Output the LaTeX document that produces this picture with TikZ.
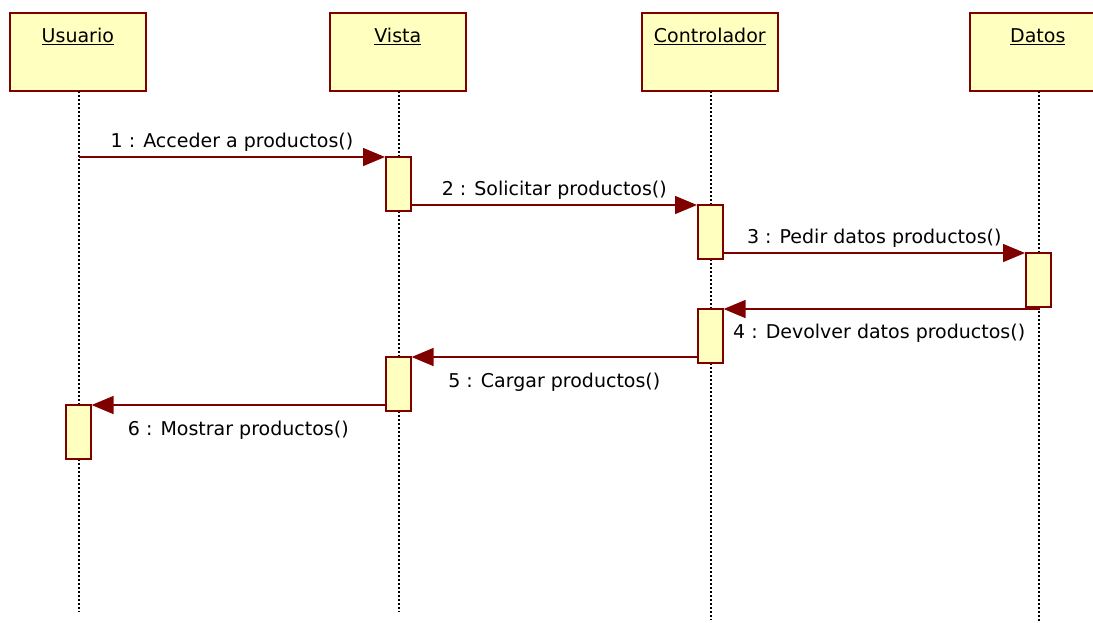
\documentclass[tikz,border=0pt]{standalone}
\usepackage{fontspec}
\setmainfont{DejaVu Sans}
\usetikzlibrary{arrows.meta}
\definecolor{umlred}{RGB}{128,0,0}
\definecolor{umlfill}{RGB}{255,255,192}
\begin{document}
\begin{tikzpicture}[x=1pt,y=-1pt,
  every node/.style={font=\fontsize{19}{23}\selectfont, inner sep=0pt},
  objbox/.style={draw=umlred, fill=umlfill, line width=1.6pt,
    minimum width=136pt, minimum height=78pt, anchor=north west},
  objname/.style={anchor=north},
  actbox/.style={draw=umlred, fill=umlfill, line width=1.6pt,
    minimum width=25pt, minimum height=54pt, anchor=north west},
  lifeline/.style={line width=1.4pt, dash pattern=on 2pt off 2pt},
  msg/.style={draw=umlred, line width=1.6pt,
    -{Triangle[length=22pt,width=18pt]}},
  msglabel/.style={text=black}]
\useasboundingbox (0,0) rectangle (1093,622);

% object heads
\node[objbox] (usuario) at (9,12) {};
\node[objbox] (vista) at (329,12) {};
\node[objbox] (ctrl) at (641,12) {};
\node[objbox] (datos) at (969,12) {};
\node[objname] at ([yshift=-16pt]usuario.north) {\underline{Usuario}};
\node[objname] at ([yshift=-16pt]vista.north) {\underline{Vista}};
\node[objname] at ([yshift=-16pt]ctrl.north) {\underline{Controlador}};
\node[objname] at ([yshift=-16pt]datos.north) {\underline{Datos}};

% lifeline ends
\coordinate (uend) at (79,612);
\coordinate (vend) at (399,612);
\coordinate (cend) at (711,620);
\coordinate (dend) at (1039,622);

% lifelines
\draw[lifeline] (79,91) -- (uend);
\draw[lifeline] (399,91) -- (vend);
\draw[lifeline] (711,91) -- (cend);
\draw[lifeline] (1039,91) -- (dend);

% activations
\node[actbox] (va1) at (385,156) {};
\node[actbox] (ca1) at (697,204) {};
\node[actbox] (da1) at (1025,252) {};
\node[actbox] (ca2) at (697,308) {};
\node[actbox] (va2) at (385,356) {};
\node[actbox] (ua1) at (65,404) {};

% message ends on lifelines
\coordinate (u1) at (79,157);
\coordinate (d4) at (1040,309);

% messages
\draw[msg] (u1) -- ([yshift=-1pt]va1.north west)
  node[msglabel, midway, anchor=south, yshift=5pt] {1 : Acceder a productos()};
\draw[msg] ([yshift=-1pt]va1.east |- ca1.north) -- ([yshift=-1pt]ca1.north west)
  node[msglabel, midway, anchor=south, yshift=5pt] {2 : Solicitar productos()};
\draw[msg] ([yshift=-1pt]ca1.east |- da1.north) -- ([yshift=-1pt]da1.north west)
  node[msglabel, midway, anchor=south, yshift=5pt] {3 : Pedir datos productos()};
\draw[msg] (d4) -- ([yshift=-1pt]ca2.north east);
\node[msglabel, anchor=north west] (l4) at (733,324) {4 : Devolver datos productos()};
\draw[msg] ([yshift=-1pt]ca2.west |- va2.north) -- ([yshift=-1pt]va2.north east)
  node[msglabel, midway, anchor=north, yshift=-15pt] {5 : Cargar productos()};
\draw[msg] ([yshift=-1pt]va2.west |- ua1.north) -- ([yshift=-1pt]ua1.north east)
  node[msglabel, midway, anchor=north, yshift=-15pt] {6 : Mostrar productos()};
\end{tikzpicture}
\end{document}
